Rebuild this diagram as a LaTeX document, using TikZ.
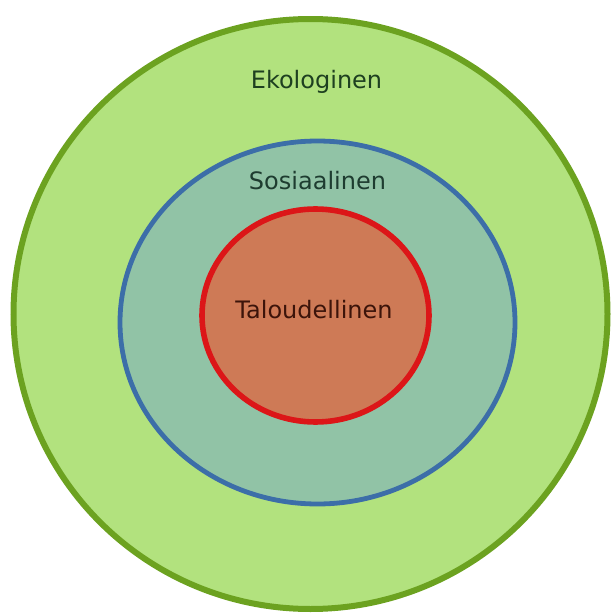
\documentclass[tikz,border=0pt]{standalone}
\usepackage{fontspec}
\setmainfont{DejaVu Sans}
\definecolor{ekofill}{RGB}{178,226,126}
\definecolor{ekoline}{RGB}{108,162,32}
\definecolor{sosfill}{RGB}{145,195,166}
\definecolor{sosline}{RGB}{60,110,168}
\definecolor{talfill}{RGB}{206,122,86}
\definecolor{talline}{RGB}{220,22,24}
\tikzset{every picture/.style={line width=0.75pt}}
\tikzset{
	label text/.style={font=\fontsize{18}{21}\selectfont, inner sep=0pt}}

\begin{document}
\begin{tikzpicture}[x=0.75pt,y=0.75pt,yscale=-1,xscale=1]
	\useasboundingbox (0,0) rectangle (615,614);

	%Shape: Ellipse [id:ekologinen] 
	\draw  [draw=ekoline, fill=ekofill, line width=4.5pt] (310.5,314) ellipse (297 and 295);
	%Shape: Ellipse [id:sosiaalinen] 
	\draw  [draw=sosline, fill=sosfill, line width=3.6pt] (317.5,322.5) ellipse (197.5 and 181.5);
	%Shape: Ellipse [id:taloudellinen] 
	\draw  [draw=talline, fill=talfill, line width=4.2pt] (315.5,315.5) ellipse (113.5 and 106.5);

	% Text Node
	\node [label text, text={rgb,255:red,30;green,64;blue,32}] (eko) at (316.5,82) {Ekologinen};
	% Text Node
	\node [label text, text={rgb,255:red,30;green,60;blue,48}] (sos) at (317.5,181) {Sosiaalinen};
	% Text Node
	\node [label text, text={rgb,255:red,60;green,20;blue,10}] (tal) at (314,310) {Taloudellinen};

\end{tikzpicture}
\end{document}
